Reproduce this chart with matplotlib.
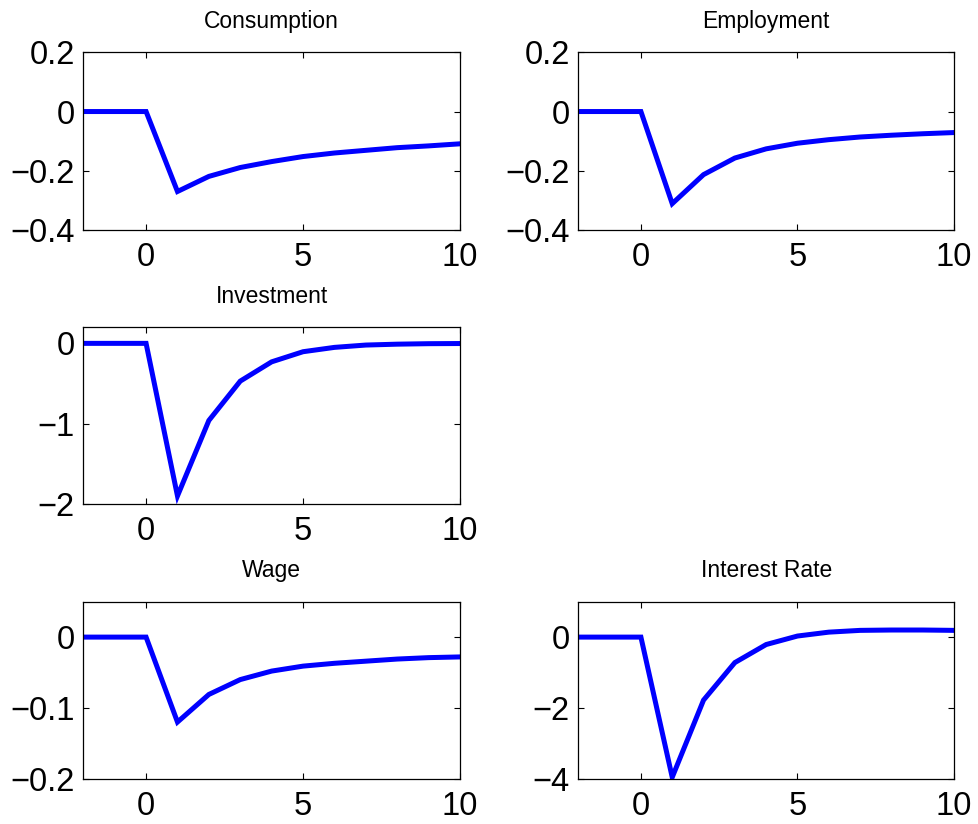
import matplotlib
matplotlib.use("Agg")
import matplotlib.pyplot as plt

plt.rcParams['font.family'] = ['Liberation Sans', 'DejaVu Sans']

periods = [-2, -1, 0, 1, 2, 3, 4, 5, 6, 7, 8, 9, 10]

consumption = [0, 0, 0, -0.270, -0.219, -0.189, -0.169, -0.152, -0.140, -0.131, -0.122, -0.116, -0.109]
employment = [0, 0, 0, -0.311, -0.213, -0.157, -0.126, -0.107, -0.095, -0.086, -0.080, -0.075, -0.071]
investment = [0, 0, 0, -1.90, -0.96, -0.47, -0.23, -0.104, -0.05, -0.021, -0.01, -0.004, -0.002]
wage = [0, 0, 0, -0.120, -0.081, -0.060, -0.048, -0.041, -0.037, -0.034, -0.031, -0.029, -0.028]
interest_rate = [0, 0, 0, -3.96, -1.78, -0.72, -0.21, 0.03, 0.14, 0.19, 0.20, 0.20, 0.19]

titles = ["Consumption", "Employment", "Investment", "Wage", "Interest Rate"]
series = [consumption, employment, investment, wage, interest_rate]
ylims = [(-0.4, 0.2), (-0.4, 0.2), (-2, 0.2), (-0.2, 0.05), (-4, 1)]
yticks = [[-0.4, -0.2, 0, 0.2], [-0.4, -0.2, 0, 0.2], [-2, -1, 0], [-0.2, -0.1, 0], [-4, -2, 0]]
xticks = [0, 5, 10]

W, H = 979, 824
fig = plt.figure(figsize=(W / 100, H / 100), dpi=100)

# positions in pixels: (x0, x1, ytop, ybottom)
pix = [
    (83.3, 460, 52.3, 230),
    (578.3, 954, 52.3, 230),
    (83.3, 460, 327.3, 504),
    (83.3, 460, 601.7, 778.7),
    (578.3, 954, 601.7, 778.7),
]


def fmt(v):
    return ('%g' % v).replace('-', '\u2212')


for title, vals, yl, yt, (x0, x1, yt0, yb0) in zip(titles, series, ylims, yticks, pix):
    ax = fig.add_axes([x0 / W, 1 - yb0 / H, (x1 - x0) / W, (yb0 - yt0) / H])
    ax.plot(periods, vals, color=(0, 0, 1), lw=3.6, solid_joinstyle='miter')
    ax.set_xlim(-2, 10)
    ax.set_ylim(*yl)
    ax.set_xticks(xticks)
    ax.set_xticklabels([fmt(v) for v in xticks])
    ax.set_yticks(yt)
    ax.set_yticklabels([fmt(v) for v in yt])
    ax.tick_params(direction='in', top=True, right=True, length=4, width=0.8,
                   labelsize=23.5)
    ax.tick_params(axis='x', pad=9)
    ax.tick_params(axis='y', pad=6)
    for s in ax.spines.values():
        s.set_linewidth(0.9)
    ax.set_title(title, fontsize=16.5, pad=17.5)

fig.savefig("out.png", dpi=100)
